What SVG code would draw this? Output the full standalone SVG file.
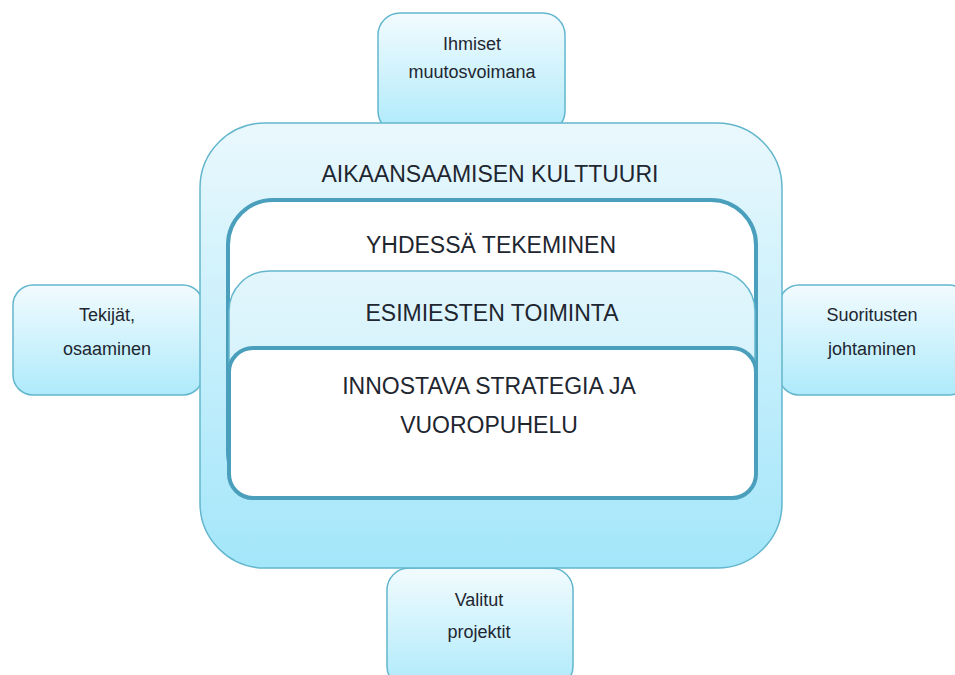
<svg xmlns="http://www.w3.org/2000/svg" width="955" height="675" viewBox="0 0 955 675">
<defs>
<linearGradient id="gSmall" x1="0" y1="0" x2="0" y2="1">
<stop offset="0" stop-color="#f2fbfe"/>
<stop offset="1" stop-color="#aeeafb"/>
</linearGradient>
<linearGradient id="gBig" x1="0" y1="0" x2="0" y2="1">
<stop offset="0" stop-color="#eaf8fd"/>
<stop offset="1" stop-color="#a3e6fa"/>
</linearGradient>
<linearGradient id="gMid" x1="0" y1="0" x2="0" y2="1">
<stop offset="0" stop-color="#e2f6fc"/>
<stop offset="1" stop-color="#c6eefb"/>
</linearGradient>
</defs>
<style>
.small{fill:url(#gSmall);stroke:#63b6cd;stroke-width:1.5}
.big{fill:url(#gBig);stroke:#63b6cd;stroke-width:1.5}
.thick{fill:#ffffff;stroke:#4a9fbc;stroke-width:4}
.mid{fill:url(#gMid);stroke:#63b6cd;stroke-width:1.5}
.t{font-family:"Liberation Sans",Arial,sans-serif;fill:#1e2630;text-anchor:middle}
.s{font-size:18px}
.l{font-size:23px}
</style>
<rect width="955" height="675" fill="#ffffff"/>
<g id="ihmiset">
<rect class="small" x="378" y="13" width="187" height="120" rx="22"/>
<text class="t s" x="472" y="50">Ihmiset</text>
<text class="t s" x="472" y="78">muutosvoimana</text>
</g>
<g id="tekijat">
<rect class="small" x="13" y="285" width="190" height="110" rx="20"/>
<text class="t s" x="107" y="321">Tekijät,</text>
<text class="t s" x="107" y="355">osaaminen</text>
</g>
<g id="suoritusten">
<rect class="small" x="779" y="285" width="190" height="110" rx="20"/>
<text class="t s" x="872" y="321">Suoritusten</text>
<text class="t s" x="872" y="355">johtaminen</text>
</g>
<g id="valitut">
<rect class="small" x="387" y="568" width="186" height="120" rx="22"/>
<text class="t s" x="479" y="606">Valitut</text>
<text class="t s" x="479" y="638">projektit</text>
</g>
<g id="kulttuuri">
<rect class="big" x="200" y="123" width="582" height="445" rx="65"/>
<text class="t l" x="490" y="182">AIKAANSAAMISEN KULTTUURI</text>
</g>
<g id="yhdessa">
<rect class="thick" x="228" y="200" width="528" height="297" rx="45"/>
<text class="t l" x="491" y="253">YHDESSÄ TEKEMINEN</text>
</g>
<g id="esimiesten">
<rect class="mid" x="229" y="271" width="526" height="225" rx="40"/>
<text class="t l" x="492" y="321">ESIMIESTEN TOIMINTA</text>
</g>
<g id="innostava">
<rect class="thick" x="229" y="348" width="527" height="150" rx="24"/>
<text class="t l" x="489" y="394">INNOSTAVA STRATEGIA JA</text>
<text class="t l" x="489" y="433">VUOROPUHELU</text>
</g>
<g id="connectors"/>
</svg>
